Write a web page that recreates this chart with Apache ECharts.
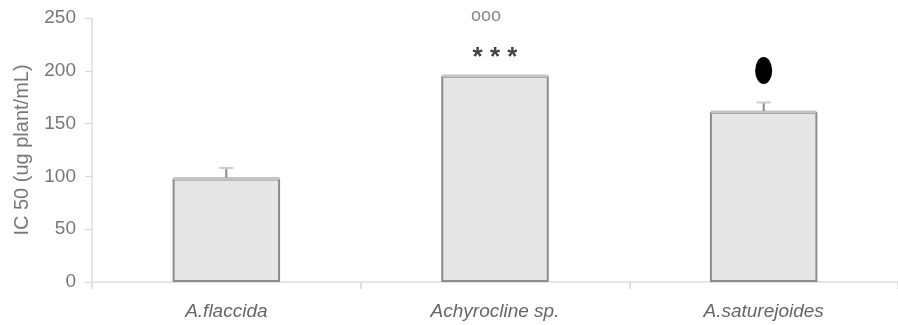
<!DOCTYPE html>
<html><head><meta charset="utf-8">
<script src="https://cdn.jsdelivr.net/npm/echarts@6/dist/echarts.min.js"></script>
<style>html,body{margin:0;padding:0;background:#fff}#c{width:898px;height:325px}</style>
</head><body><div id="c"></div>
<script>
var categories = ['A.flaccida', 'Achyrocline sp.', 'A.saturejoides'];
var values = [98, 195, 161];
var errors = [10, 0, 9];
var yTicks = [0, 50, 100, 150, 200, 250];
var axisName = 'IC 50 (ug plant/mL)';
var starMarks = ['', '* * *', ''];
var circleMarks = ['', 'ooo', ''];
var dotMarks = [0, 0, 1];

var chart = echarts.init(document.getElementById('c'));
var font = 'Liberation Sans, Arial, sans-serif';
chart.setOption({
  animation: false,
  grid: {left: 92, right: 0, top: 18, bottom: 43},
  xAxis: {
    type: 'category', data: categories,
    axisLine: {lineStyle: {color: '#dedede', width: 1.5}},
    axisTick: {show: true, length: 7, lineStyle: {color: '#e0e0e0', width: 2}},
    axisLabel: {color: '#666', fontSize: 19, fontStyle: 'italic', fontFamily: font, margin: 20}
  },
  yAxis: {
    type: 'value', min: yTicks[0], max: yTicks[yTicks.length - 1], interval: 50,
    name: axisName, nameLocation: 'middle', nameGap: 60, nameRotate: 90,
    nameTextStyle: {color: '#777', fontSize: 20, fontFamily: font},
    axisLine: {show: true, lineStyle: {color: '#dedede', width: 1.5}},
    axisTick: {show: true, length: 7, lineStyle: {color: '#d8d8d8'}},
    splitLine: {show: false},
    axisLabel: {color: '#777', fontSize: 19, fontFamily: font, margin: 16}
  },
  series: [
    {
      type: 'bar', data: values, barWidth: '40%',
      itemStyle: {color: '#e6e6e6', borderColor: '#8c8c8c', borderWidth: 2}
    },
    {
      type: 'custom', clip: false, z: 5,
      data: categories.map(function (c, i) { return [i, values[i], errors[i]]; }),
      renderItem: function (params, api) {
        var i = api.value(0), v = api.value(1), e = api.value(2);
        var base = api.coord([i, v]);
        var size = api.size([1, 0]);
        var half = size[0] * 0.2;
        var children = [{
          type: 'line',
          shape: {x1: base[0] - half + 1, y1: base[1], x2: base[0] + half - 1, y2: base[1]},
          style: {stroke: '#c4c4c4', lineWidth: 3}
        }];
        if (e > 0) {
          var top = api.coord([i, v + e]);
          children.push({type: 'line', shape: {x1: base[0], y1: base[1] - 1, x2: top[0], y2: top[1]}, style: {stroke: '#888', lineWidth: 2}});
          children.push({type: 'line', shape: {x1: top[0] - 7, y1: top[1], x2: top[0] + 7, y2: top[1]}, style: {stroke: '#ccc', lineWidth: 2}});
        }
        var topVal = api.coord([i, v + e]);
        if (starMarks[i]) {
          children.push({type: 'text', style: {text: starMarks[i], x: base[0], y: base[1] - 18, align: 'center', verticalAlign: 'middle', fill: '#444', font: 'bold 26px ' + font}});
        }
        if (circleMarks[i]) {
          children.push({type: 'text', style: {text: circleMarks[i], x: base[0] - 9, y: base[1] - 60, align: 'center', verticalAlign: 'middle', fill: '#888', font: '18px ' + font}});
        }
        if (dotMarks[i]) {
          children.push({type: 'circle', shape: {cx: 0, cy: 0, r: 1}, x: topVal[0], y: topVal[1] - 32, scaleX: 8.5, scaleY: 13.5, style: {fill: '#000'}});
        }
        return {type: 'group', children: children};
      }
    }
  ]
});
</script></body></html>
